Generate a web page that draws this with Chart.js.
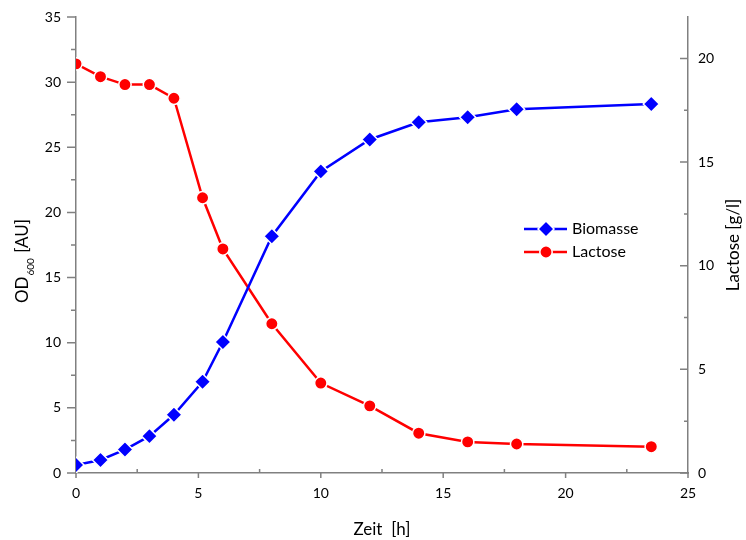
<!DOCTYPE html>
<html><head><meta charset="utf-8">
<script src="https://cdn.jsdelivr.net/npm/chart.js@4"></script>
<style>html,body{margin:0;padding:0;background:#fff}#wrap{width:746px;height:540px;position:relative}</style>
</head><body><div id="wrap"><canvas id="c" width="746" height="540"></canvas></div>
<script>
// ---- data ----
const zeit = [0, 1, 2, 3, 4, 5.17, 6, 8, 10, 12, 14, 16, 18, 23.5];
const biomasse = [0.61, 1.0, 1.8, 2.83, 4.47, 7.0, 10.05, 18.17, 23.15, 25.6, 26.92, 27.3, 27.92, 28.32];
const lactose = [19.74, 19.12, 18.74, 18.74, 18.08, 13.28, 10.81, 7.2, 4.34, 3.24, 1.92, 1.5, 1.4, 1.27];
const xTicks = [0, 5, 10, 15, 20, 25];
const leftTicks = [0, 5, 10, 15, 20, 25, 30, 35];
const rightTicks = [0, 5, 10, 15, 20];
const seriesNames = ['Biomasse', 'Lactose'];
const xTitle = 'Zeit  [h]';
const yTitleMain = 'OD';
const yTitleSub = '600';
const yTitleRest = ' [AU]';
const y2Title = 'Lactose [g/l]';

const FONT = 'Lato, "Open Sans", sans-serif';
const AXIS = '#808080';
const TXT = '#000';

function pts(xs, ys) { return xs.map((x, i) => ({ x: x, y: ys[i] })); }

const decor = {
  id: 'decor',
  afterDraw(chart) {
    const ctx = chart.ctx;
    const ca = chart.chartArea;
    const sx = chart.scales.x, sy = chart.scales.y, sy2 = chart.scales.y2;
    ctx.save();
    ctx.strokeStyle = AXIS;
    ctx.lineWidth = 1.5;
    ctx.beginPath();
    leftTicks.forEach(v => { const p = sy.getPixelForValue(v); ctx.moveTo(ca.left - 9, p); ctx.lineTo(ca.left, p); });
    for (let i = 0; i < leftTicks.length - 1; i++) {
      const p = sy.getPixelForValue((leftTicks[i] + leftTicks[i + 1]) / 2);
      ctx.moveTo(ca.left - 5, p); ctx.lineTo(ca.left, p);
    }
    xTicks.forEach(v => { const p = sx.getPixelForValue(v); ctx.moveTo(p, ca.bottom); ctx.lineTo(p, ca.bottom + 5); });
    for (let i = 0; i < xTicks.length - 1; i++) {
      const p = sx.getPixelForValue((xTicks[i] + xTicks[i + 1]) / 2);
      ctx.moveTo(p, ca.bottom); ctx.lineTo(p, ca.bottom - 4);
    }
    rightTicks.forEach(v => { const p = sy2.getPixelForValue(v); ctx.moveTo(ca.right - 8, p); ctx.lineTo(ca.right, p); });
    for (let i = 0; i < rightTicks.length; i++) {
      const mv = rightTicks[i] + 2.5;
      if (mv > sy2.max) break;
      const p = sy2.getPixelForValue(mv);
      ctx.moveTo(ca.right - 4, p); ctx.lineTo(ca.right, p);
    }
    ctx.stroke();

    ctx.fillStyle = TXT;
    ctx.font = '17px ' + FONT;
    ctx.textAlign = 'center';
    ctx.textBaseline = 'middle';
    ctx.fillText(xTitle, (ca.left + ca.right) / 2, 530);

    ctx.save();
    ctx.translate(23, 262);
    ctx.rotate(-Math.PI / 2);
    const fMain = '17px ' + FONT, fSub = '10px ' + FONT;
    ctx.font = fMain; const w1 = ctx.measureText(yTitleMain).width; const w3 = ctx.measureText(yTitleRest).width;
    ctx.font = fSub; const w2 = ctx.measureText(yTitleSub).width;
    let x0 = -(w1 + w2 + w3) / 2;
    ctx.textAlign = 'left';
    ctx.font = fMain; ctx.fillText(yTitleMain, x0, 0);
    ctx.font = fSub; ctx.fillText(yTitleSub, x0 + w1 + 1, 8);
    ctx.font = fMain; ctx.fillText(yTitleRest, x0 + w1 + w2 + 2, 0);
    ctx.restore();

    ctx.save();
    ctx.translate(734, 245);
    ctx.rotate(-Math.PI / 2);
    ctx.textAlign = 'center';
    ctx.font = '17px ' + FONT;
    ctx.fillText(y2Title, 0, 0);
    ctx.restore();

    const rows = [229, 252];
    chart.data.datasets.forEach((ds, i) => {
      const y = rows[i];
      ctx.strokeStyle = ds.borderColor;
      ctx.lineWidth = ds.borderWidth;
      ctx.beginPath(); ctx.moveTo(524, y); ctx.lineTo(567, y); ctx.stroke();
      ctx.fillStyle = ds.pointBackgroundColor;
      ctx.strokeStyle = ds.pointBorderColor;
      ctx.lineWidth = ds.pointBorderWidth;
      Chart.helpers.drawPoint(ctx, {
        pointStyle: ds.pointStyle, radius: ds.pointRadius, borderWidth: ds.pointBorderWidth, rotation: 0
      }, 546, y);
      ctx.fillStyle = TXT;
      ctx.font = '16px ' + FONT;
      ctx.textAlign = 'left';
      ctx.textBaseline = 'middle';
      ctx.fillText(ds.label, 572, y);
    });
    ctx.restore();
  }
};

new Chart(document.getElementById('c'), {
  type: 'line',
  data: {
    datasets: [
      {
        label: seriesNames[0], data: pts(zeit, biomasse), yAxisID: 'y',
        borderColor: '#0000ff', backgroundColor: '#0000ff', borderWidth: 2.5,
        pointStyle: 'rectRot', pointRadius: 8, pointHoverRadius: 8,
        pointBackgroundColor: '#0000ff', pointBorderColor: '#ffffff', pointBorderWidth: 1.5,
        tension: 0
      },
      {
        label: seriesNames[1], data: pts(zeit, lactose), yAxisID: 'y2',
        borderColor: '#ff0000', backgroundColor: '#ff0000', borderWidth: 2.5,
        pointStyle: 'circle', pointRadius: 6.2, pointHoverRadius: 6.2,
        pointBackgroundColor: '#ff0000', pointBorderColor: '#ffffff', pointBorderWidth: 1.5,
        tension: 0
      }
    ]
  },
  options: {
    responsive: false,
    animation: false,
    events: [],
    layout: { padding: { top: 17, left: 0, right: 0, bottom: 0 } },
    plugins: { legend: { display: false }, tooltip: { enabled: false }, title: { display: false } },
    scales: {
      x: {
        type: 'linear', min: 0, max: 25,
        afterBuildTicks: s => { s.ticks = xTicks.map(v => ({ value: v })); },
        afterFit: s => { s.height = 67; s.paddingLeft = 0; s.paddingRight = 0; },
        grid: { display: false, drawTicks: false },
        border: { display: true, color: AXIS, width: 1.5 },
        ticks: { padding: 12, color: TXT, font: { family: FONT, size: 14 }, maxRotation: 0 }
      },
      y: {
        type: 'linear', position: 'left', min: 0, max: 35,
        afterBuildTicks: s => { s.ticks = leftTicks.map(v => ({ value: v })); },
        afterFit: s => { s.width = 76; s.paddingTop = 0; s.paddingBottom = 0; },
        grid: { display: false, drawTicks: false },
        border: { display: true, color: AXIS, width: 1.5 },
        ticks: { padding: 15, color: TXT, font: { family: FONT, size: 14 } }
      },
      y2: {
        type: 'linear', position: 'right', min: 0, max: 22,
        afterBuildTicks: s => { s.ticks = rightTicks.map(v => ({ value: v })); },
        afterFit: s => { s.width = 58; s.paddingTop = 0; s.paddingBottom = 0; },
        grid: { display: false, drawTicks: false },
        border: { display: true, color: AXIS, width: 1.5 },
        ticks: { padding: 10, color: TXT, font: { family: FONT, size: 14 } }
      }
    }
  },
  plugins: [decor]
});
</script>
</body></html>
